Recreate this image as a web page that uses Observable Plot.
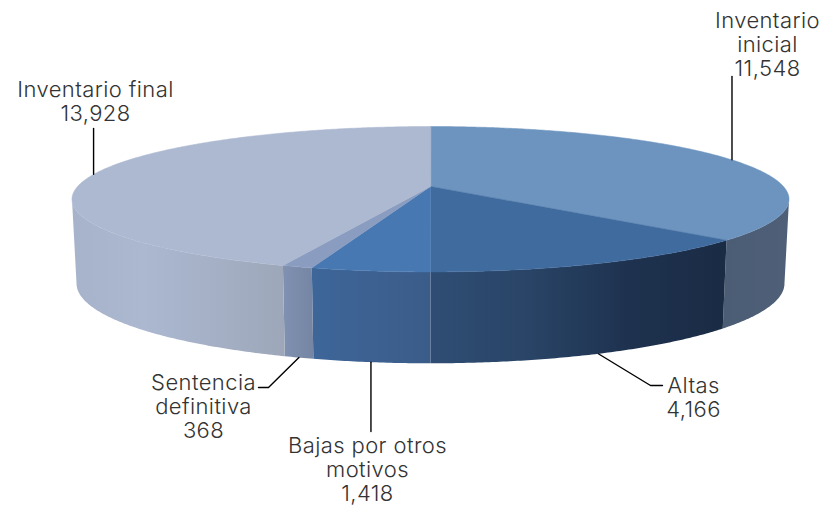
<!DOCTYPE html>
<html><head><meta charset="utf-8">
<style>html,body{margin:0;padding:0;background:#fff}svg{display:block}</style>
<script src="https://cdn.jsdelivr.net/npm/d3@7"></script>
<script src="https://cdn.jsdelivr.net/npm/@observablehq/plot@0.6"></script>
</head><body><div id="chart"></div>
<script>
const categories = ["Inventario\ninicial", "Altas", "Bajas por otros\nmotivos", "Sentencia\ndefinitiva", "Inventario final"];
const values = [11548, 4166, 1418, 368, 13928];

const topColors = ["#6c94bf", "#406b9e", "#4878b2", "#8a9dc0", "#adb9d1"];
const wallStops = [
  ["#4b5d75", "#4e5f77"],
  ["#2f4d74", "#294466", "#1e324f", "#1a2b44"],
  ["#3e6699", "#3b5c89"],
  ["#8091b1", "#7585a3"],
  ["#a6b3cb", "#abb8d0", "#a5b0c6", "#9da7b9"]
];
const labelAnchor = [[767, 43.5], [693, 396.5], [367, 469], [203, 406], [95, 100.5]];
const leaderBends = [[[null, 76]], [[650, 385], [662, 385]], [[null, 431]], [[268, 387], [258, 387]], [[null, 128]]];

// perspective view of the two discs of the pie
const cx = 430, k = 0.175;
const topDisc = {R: 353, a: 70.5, y0: 186};
const botDisc = {R: 348.5, a: 77.3, y0: 269.1};
const project = (disc, deg) => {
  const t = deg * Math.PI / 180, u = Math.sin(t), v = Math.cos(t), w = 1 + k * v;
  return {x: cx + disc.R * u / w, y: disc.y0 - disc.a * v / w};
};
const arc = (disc, a0, a1) => {
  const n = Math.max(2, Math.ceil(Math.abs(a1 - a0) / 0.5));
  return d3.range(n + 1).map(i => project(disc, a0 + (a1 - a0) * i / n));
};

const total = d3.sum(values);
const cum = d3.cumsum(values);
const slices = values.map((v, i) => ({
  i,
  a0: (i ? cum[i - 1] : 0) / total * 360,
  a1: cum[i] / total * 360
}));
const tangent = Math.acos(-k) * 180 / Math.PI;
const lim0 = tangent, lim1 = 360 - tangent;

const marks = [];
marks.push(() => {
  const defs = d3.create("svg:defs");
  wallStops.forEach((stops, i) => {
    const g = defs.append("linearGradient").attr("id", "wall" + i).attr("x1", 0).attr("x2", 1).attr("y1", 0).attr("y2", 0);
    stops.forEach((c, j) => g.append("stop").attr("offset", j / (stops.length - 1)).attr("stop-color", c));
  });
  return defs.node();
});
// walls
slices.forEach(s => {
  const a0 = Math.max(s.a0, lim0), a1 = Math.min(s.a1, lim1);
  if (a1 <= a0) return;
  const poly = [...arc(topDisc, a0, a1), ...arc(botDisc, a1, a0)];
  const fill = `url(#wall${s.i})`;
  marks.push(Plot.line(poly, {x: "x", y: "y", fill, stroke: "none", curve: "linear-closed"}));
});
// top faces
slices.forEach(s => {
  const poly = [{x: cx, y: topDisc.y0}, ...arc(topDisc, s.a0, s.a1)];
  marks.push(Plot.line(poly, {x: "x", y: "y", fill: topColors[s.i], stroke: topColors[s.i], strokeWidth: 0.5, curve: "linear-closed"}));
});
// leaders
slices.forEach(s => {
  const mid = (s.a0 + s.a1) / 2;
  const front = mid > lim0 && mid < lim1;
  const start = project(front ? botDisc : topDisc, mid);
  const pts = [start, ...leaderBends[s.i].map(([x, y]) => ({x: x ?? start.x, y}))];
  marks.push(Plot.line(pts, {x: "x", y: "y", stroke: "#000", strokeWidth: 1.4, curve: "linear"}));
});
// labels
const labelRows = categories.map((c, i) => ({
  text: c + "\n" + d3.format(",")(values[i]),
  x: labelAnchor[i][0], y: labelAnchor[i][1]
}));
marks.push(Plot.text(labelRows, {
  x: "x", y: "y", text: "text", textAnchor: "middle", lineAnchor: "middle",
  lineHeight: 1.1, fontSize: 22, fill: "#333", fontFamily: "Inter", fontWeight: 300
}));

const plot = Plot.plot({
  width: 825, height: 506, margin: 0,
  x: {domain: [0, 825], range: [0, 825], axis: null},
  y: {domain: [0, 506], range: [0, 506], axis: null},
  style: {background: "#fff", letterSpacing: "0.4px"},
  marks
});
document.getElementById("chart").append(plot);
</script></body></html>
